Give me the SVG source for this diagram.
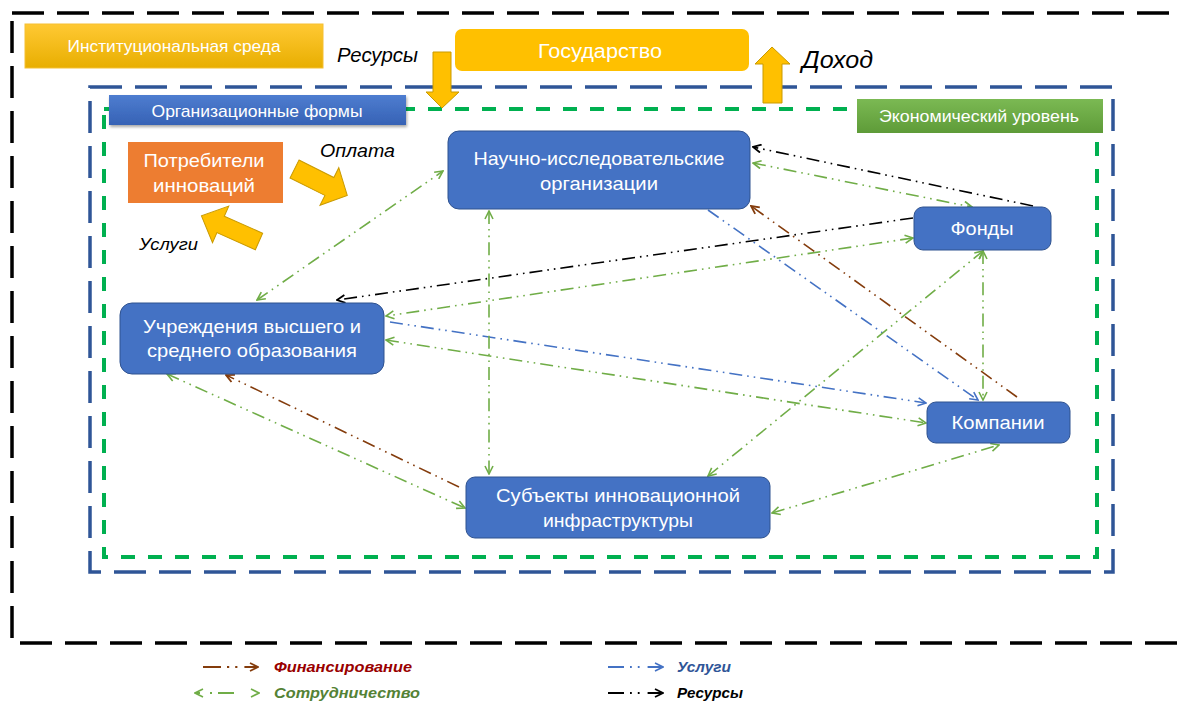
<svg xmlns="http://www.w3.org/2000/svg" width="1181" height="702" viewBox="0 0 1181 702">
<style>
.frame{fill:none}
.node rect{fill:#4472C4;stroke:#2F528F;stroke-width:1}
.nt{font-family:"Liberation Sans",Arial,sans-serif;font-size:19px;fill:#fff;text-anchor:middle}
.lbl{font-family:"Liberation Sans",Arial,sans-serif;fill:#fff;text-anchor:middle}
.it{font-family:"Liberation Sans",Arial,sans-serif;font-style:italic;fill:#000}
.blk{fill:#FFC000;stroke:#C99A00;stroke-width:1}
.c{fill:none;stroke-width:1.6;stroke-dasharray:13 5 1.6 5 1.6 5}
.g{stroke:#70AD47}
.b{stroke:#4472C4}
.r{stroke:#843C0C}
.k{stroke:#000}
.leg{font-family:"Liberation Sans",Arial,sans-serif;font-style:italic;font-weight:bold;font-size:14px}
</style>
<defs>
<marker id="ag" viewBox="0 0 10 10" refX="9" refY="5" markerWidth="10" markerHeight="10" markerUnits="userSpaceOnUse" orient="auto-start-reverse"><path d="M1,1 L9,5 L1,9" fill="none" stroke="#70AD47" stroke-width="1.6"/></marker>
<marker id="ab" viewBox="0 0 10 10" refX="9" refY="5" markerWidth="10" markerHeight="10" markerUnits="userSpaceOnUse" orient="auto-start-reverse"><path d="M1,1 L9,5 L1,9" fill="none" stroke="#4472C4" stroke-width="1.6"/></marker>
<marker id="ar" viewBox="0 0 10 10" refX="9" refY="5" markerWidth="10" markerHeight="10" markerUnits="userSpaceOnUse" orient="auto-start-reverse"><path d="M1,1 L9,5 L1,9" fill="none" stroke="#843C0C" stroke-width="1.8"/></marker>
<marker id="ak" viewBox="0 0 10 10" refX="9" refY="5" markerWidth="10" markerHeight="10" markerUnits="userSpaceOnUse" orient="auto-start-reverse"><path d="M1,1 L9,5 L1,9" fill="none" stroke="#000" stroke-width="1.8"/></marker>
<linearGradient id="gy" x1="0" y1="0" x2="0" y2="1"><stop offset="0" stop-color="#FFC934"/><stop offset="1" stop-color="#E8AE00"/></linearGradient>
<linearGradient id="gb" x1="0" y1="0" x2="0" y2="1"><stop offset="0" stop-color="#4E7DD0"/><stop offset="1" stop-color="#3662B5"/></linearGradient>
<linearGradient id="gg" x1="0" y1="0" x2="0" y2="1"><stop offset="0" stop-color="#7BB953"/><stop offset="1" stop-color="#5E9B38"/></linearGradient>
<filter id="sh" x="-10%" y="-30%" width="120%" height="170%"><feDropShadow dx="1" dy="2" stdDeviation="1.5" flood-color="#000" flood-opacity="0.35"/></filter>
</defs>

<g id="frames">
<rect class="frame" x="12" y="13" width="1190" height="630" stroke="#000" stroke-width="3.5" stroke-dasharray="32 13"/>
<rect class="frame" x="90" y="87" width="1023" height="485" stroke="#2F5597" stroke-width="3.5" stroke-dasharray="32 13"/>
<rect class="frame" x="104" y="109" width="993" height="448" stroke="#00B050" stroke-width="4" stroke-dasharray="14 13"/>
</g>

<g id="institutional">
<rect x="25" y="24" width="298" height="44" fill="url(#gy)" stroke="#F5C033" stroke-width="1"/>
<text class="lbl" x="174" y="52" font-size="17" textLength="213" lengthAdjust="spacingAndGlyphs">Институциональная среда</text>
</g>

<g id="state">
<rect x="455" y="29" width="294" height="42" rx="7" fill="#FFC000"/>
<text class="lbl" x="600" y="58" font-size="20" textLength="124" lengthAdjust="spacingAndGlyphs">Государство</text>
</g>

<g id="flow-resources">
<polygon class="blk" points="433,52 451,52 451,92 459,92 442,108 426,92 433,92"/>
<text class="it" x="337" y="62" font-size="20" textLength="81" lengthAdjust="spacingAndGlyphs">Ресурсы</text>
</g>
<g id="flow-income">
<polygon class="blk" points="763,103 782,103 782,64 790,64 772,47 755,64 763,64"/>
<text class="it" x="802" y="68" font-size="23" textLength="71" lengthAdjust="spacingAndGlyphs">Доход</text>
</g>

<g id="org-forms">
<rect x="109" y="95" width="297" height="30" fill="url(#gb)" filter="url(#sh)"/>
<text class="lbl" x="257" y="117" font-size="17" textLength="211" lengthAdjust="spacingAndGlyphs">Организационные формы</text>
</g>

<g id="econ-level">
<rect x="857" y="99" width="246" height="34" fill="url(#gg)"/>
<text class="lbl" x="979" y="122" font-size="17" textLength="200" lengthAdjust="spacingAndGlyphs">Экономический уровень</text>
</g>

<g id="consumers">
<rect x="128" y="142" width="155" height="61" fill="#ED7D31"/>
<text class="nt" x="204" y="167" textLength="121" lengthAdjust="spacingAndGlyphs">Потребители</text>
<text class="nt" x="204" y="192" textLength="102" lengthAdjust="spacingAndGlyphs">инноваций</text>
</g>

<g id="flow-payment">
<path class="blk" d="M0,-10 L39,-10 L39,-21 L59,0 L39,21 L39,10 L0,10 Z" transform="translate(294.5,169) rotate(26.6)"/>
<text class="it" x="320" y="157" font-size="18" textLength="75" lengthAdjust="spacingAndGlyphs">Оплата</text>
</g>
<g id="flow-services">
<path class="blk" d="M0,-9 L42,-9 L42,-20 L63,0 L42,20 L42,9 L0,9 Z" transform="translate(259,241.5) rotate(204)"/>
<text class="it" x="139" y="250" font-size="17" textLength="59" lengthAdjust="spacingAndGlyphs">Услуги</text>
</g>

<g id="connectors">
<line class="c g" x1="257" y1="300" x2="443" y2="171" marker-start="url(#ag)" marker-end="url(#ag)"/>
<line class="c k" x1="1033" y1="206" x2="753" y2="147" marker-end="url(#ak)"/>
<line class="c g" x1="753" y1="163" x2="972" y2="207" marker-start="url(#ag)" marker-end="url(#ag)"/>
<line class="c k" x1="913" y1="218" x2="337" y2="300" marker-end="url(#ak)"/>
<line class="c g" x1="913" y1="238" x2="386" y2="316" marker-start="url(#ag)" marker-end="url(#ag)"/>
<line class="c b" x1="390" y1="322" x2="926" y2="403" marker-end="url(#ab)"/>
<line class="c g" x1="386" y1="340" x2="926" y2="423" marker-start="url(#ag)" marker-end="url(#ag)"/>
<line class="c g" x1="167" y1="374" x2="465" y2="508" marker-start="url(#ag)" marker-end="url(#ag)"/>
<line class="c r" x1="459" y1="487" x2="226" y2="375" marker-end="url(#ar)"/>
<line class="c g" x1="489" y1="211" x2="489" y2="474" marker-start="url(#ag)" marker-end="url(#ag)"/>
<line class="c b" x1="708" y1="210" x2="978" y2="400" marker-end="url(#ab)"/>
<line class="c r" x1="1017" y1="397" x2="751" y2="206" marker-end="url(#ar)"/>
<line class="c g" x1="983" y1="251" x2="983" y2="400" marker-start="url(#ag)" marker-end="url(#ag)"/>
<line class="c g" x1="708" y1="476" x2="983" y2="251" marker-start="url(#ag)" marker-end="url(#ag)"/>
<line class="c g" x1="772" y1="513" x2="999" y2="445" marker-start="url(#ag)" marker-end="url(#ag)"/>
</g>

<g id="node-research" class="node">
<rect x="448" y="131" width="302" height="78" rx="11"/>
<text class="nt" x="599" y="165" textLength="251" lengthAdjust="spacingAndGlyphs">Научно-исследовательские</text>
<text class="nt" x="599" y="190" textLength="118" lengthAdjust="spacingAndGlyphs">организации</text>
</g>
<g id="node-funds" class="node">
<rect x="914" y="207" width="137" height="43" rx="9"/>
<text class="nt" x="982" y="235" textLength="63" lengthAdjust="spacingAndGlyphs">Фонды</text>
</g>
<g id="node-education" class="node">
<rect x="120" y="303" width="264" height="71" rx="12"/>
<text class="nt" x="252" y="333" textLength="218" lengthAdjust="spacingAndGlyphs">Учреждения высшего и</text>
<text class="nt" x="252" y="357" textLength="210" lengthAdjust="spacingAndGlyphs">среднего образования</text>
</g>
<g id="node-companies" class="node">
<rect x="927" y="402" width="143" height="41" rx="9"/>
<text class="nt" x="998" y="429" textLength="93" lengthAdjust="spacingAndGlyphs">Компании</text>
</g>
<g id="node-infrastructure" class="node">
<rect x="466" y="477" width="304" height="61" rx="9"/>
<text class="nt" x="618" y="502" textLength="244" lengthAdjust="spacingAndGlyphs">Субъекты инновационной</text>
<text class="nt" x="618" y="527" textLength="150" lengthAdjust="spacingAndGlyphs">инфраструктуры</text>
</g>

<g id="legend">
<line x1="203" y1="667" x2="258" y2="667" stroke="#843C0C" stroke-width="2.2" stroke-dasharray="18 6 2.2 6 2.2 7 14 40" marker-end="url(#ar)"/>
<text class="leg" x="274" y="672" fill="#990000" textLength="138" lengthAdjust="spacingAndGlyphs">Финансирование</text>
<line x1="195" y1="693" x2="259" y2="693" stroke="#70AD47" stroke-width="1.8" stroke-dasharray="5 10 2 6 16 40" marker-start="url(#ag)" marker-end="url(#ag)"/>
<text class="leg" x="274" y="698" fill="#548235" textLength="146" lengthAdjust="spacingAndGlyphs">Сотрудничество</text>
<line x1="608" y1="667" x2="663" y2="667" stroke="#4472C4" stroke-width="1.8" stroke-dasharray="16 6 1.8 6 1.8 8 14 40" marker-end="url(#ab)"/>
<text class="leg" x="677" y="672" fill="#2F5597" textLength="54" lengthAdjust="spacingAndGlyphs">Услуги</text>
<line x1="608" y1="693" x2="663" y2="693" stroke="#000" stroke-width="1.8" stroke-dasharray="16 6 1.8 6 1.8 8 14 40" marker-end="url(#ak)"/>
<text class="leg" x="677" y="698" fill="#000" textLength="66" lengthAdjust="spacingAndGlyphs">Ресурсы</text>
</g>
</svg>
